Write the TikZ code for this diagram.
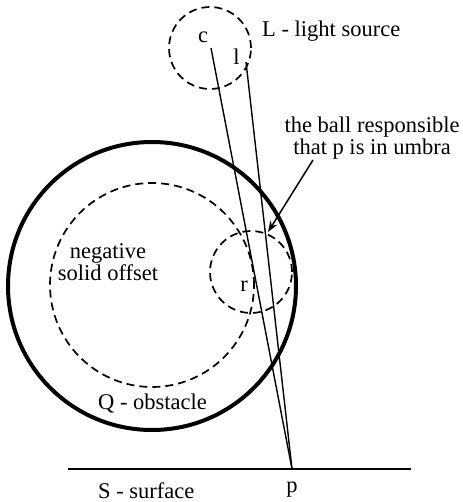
\documentclass[tikz,border=0pt]{standalone}
\usepackage{fontspec}
\setmainfont{Liberation Serif}
\usetikzlibrary{arrows.meta}
\begin{document}
\begin{tikzpicture}[x=1pt,y=-1pt,
  lbl/.style={font=\fontsize{22.5}{21.5}\selectfont, inner sep=0pt, align=center},
  dashc/.style={draw, circle, dash pattern=on 8pt off 5pt, line width=1.7pt, inner sep=0pt},
  ray/.style={line width=1.4pt},
  obst/.style={draw, circle, line width=4pt, inner sep=0pt},
  surf/.style={line width=2.2pt},
  pointer/.style={line width=1.5pt, -{Stealth[length=11pt,width=8pt]}}]
\useasboundingbox (0,0) rectangle (462,502);
% circles
\node[dashc, minimum size=82pt] (L) at (210,48) {};
\node[obst, minimum size=288pt] (Q) at (152,286) {};
\node[dashc, minimum size=204pt] (N) at (152,285) {};
\node[dashc, minimum size=82pt] (B) at (251,272) {};
% points
\coordinate (c) at (211,48);
\coordinate (l) at (246,62);
\coordinate (p) at (292,469);
\coordinate (sl) at (68,469);
\coordinate (sr) at (411,469);
% rays and surface
\draw[ray] (c) -- (p);
\draw[ray] (l) -- (p);
\draw[surf] (sl) -- (sr);
% labels
\node[lbl, anchor=base] (tc) at (203,43) {c};
\node[lbl, anchor=base] (tl) at (236.5,65) {l};
\node[lbl, anchor=base] (tr) at (244,291) {r};
\node[lbl, anchor=base] (tp) at (292,492) {p};
\node[lbl, anchor=base west] (tL) at (262,37) {L - light source};
\node[lbl] (tball) at (372,138) {the ball responsible\\that p is in umbra};
\node[lbl] (tneg) at (108,262) {negative\\solid offset};
\node[lbl, anchor=base west] (tQ) at (98,409) {Q - obstacle};
\node[lbl, anchor=base west] (tS) at (98,498) {S - surface};
% pointer
\coordinate (ptail) at (313,160);
\coordinate (ptip) at (268,232);
\draw[pointer] (ptail) -- (ptip);
\end{tikzpicture}
\end{document}
